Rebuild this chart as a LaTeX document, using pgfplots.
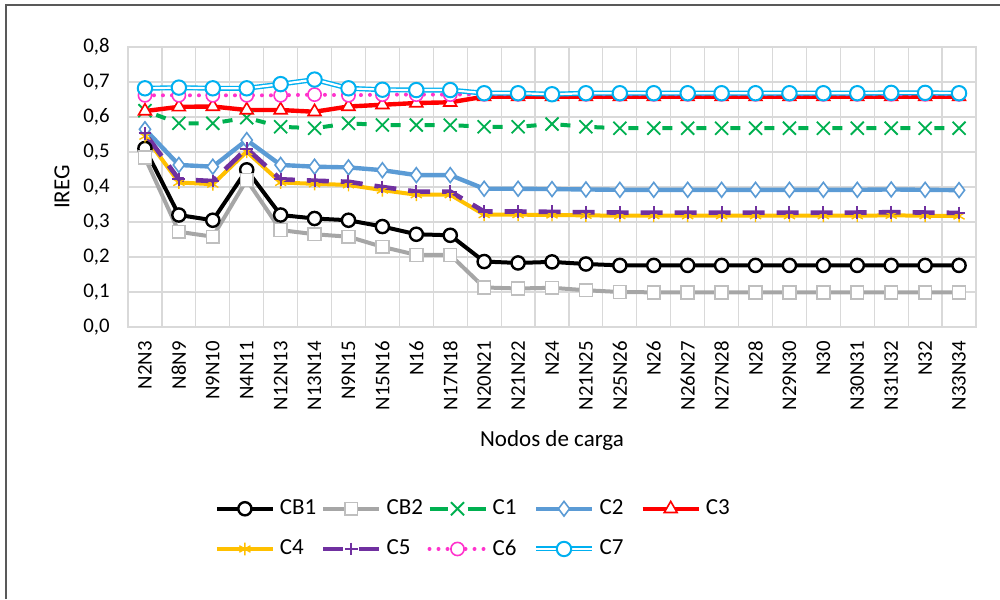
\documentclass[border=0pt]{standalone}
\usepackage{fontspec}
\setmainfont{Carlito}
\usepackage{pgfplots}
\usepackage{pgfplotstable}
\pgfplotsset{compat=1.18}
\usetikzlibrary{plotmarks}

\definecolor{cb2}{HTML}{A6A6A6}
\definecolor{cb2m}{HTML}{BFBFBF}
\definecolor{cone}{HTML}{00B050}
\definecolor{ctwo}{HTML}{5B9BD5}
\definecolor{cthree}{HTML}{FF0000}
\definecolor{cfour}{HTML}{FFC000}
\definecolor{cfive}{HTML}{7030A0}
\definecolor{csix}{HTML}{FF33CC}
\definecolor{cseven}{HTML}{00B0F0}
\definecolor{gridc}{HTML}{D9D9D9}

% IREG por nodo de carga
\pgfplotstableread{
x  CB1   CB2   C1    C2    C3    C4    C5    C6    C7
0  0.510 0.484 0.618 0.565 0.617 0.545 0.553 0.662 0.682
1  0.320 0.272 0.582 0.463 0.629 0.413 0.422 0.662 0.684
2  0.305 0.258 0.582 0.458 0.630 0.408 0.417 0.662 0.682
3  0.449 0.420 0.598 0.534 0.620 0.501 0.510 0.662 0.682
4  0.320 0.277 0.572 0.463 0.620 0.413 0.422 0.662 0.694
5  0.310 0.265 0.568 0.458 0.615 0.409 0.418 0.664 0.707
6  0.305 0.258 0.582 0.456 0.630 0.406 0.415 0.662 0.682
7  0.287 0.229 0.577 0.448 0.635 0.391 0.400 0.664 0.678
8  0.265 0.206 0.577 0.434 0.640 0.378 0.387 0.664 0.677
9  0.262 0.206 0.577 0.434 0.642 0.378 0.387 0.664 0.677
10 0.187 0.113 0.572 0.395 0.658 0.321 0.330 0.665 0.668
11 0.183 0.110 0.572 0.395 0.658 0.321 0.330 0.665 0.668
12 0.186 0.112 0.580 0.394 0.658 0.320 0.329 0.665 0.665
13 0.180 0.105 0.572 0.393 0.658 0.319 0.328 0.665 0.668
14 0.176 0.100 0.568 0.392 0.658 0.318 0.327 0.665 0.668
15 0.176 0.099 0.568 0.392 0.658 0.318 0.327 0.665 0.668
16 0.176 0.099 0.568 0.392 0.658 0.318 0.327 0.665 0.668
17 0.176 0.099 0.568 0.392 0.658 0.318 0.327 0.665 0.668
18 0.176 0.099 0.568 0.392 0.658 0.318 0.327 0.665 0.668
19 0.176 0.099 0.568 0.392 0.658 0.318 0.327 0.665 0.668
20 0.176 0.099 0.568 0.392 0.658 0.318 0.327 0.665 0.668
21 0.176 0.099 0.568 0.392 0.658 0.318 0.327 0.665 0.668
22 0.176 0.099 0.568 0.393 0.658 0.319 0.328 0.665 0.669
23 0.176 0.099 0.568 0.392 0.658 0.318 0.327 0.665 0.669
24 0.176 0.099 0.568 0.391 0.658 0.317 0.326 0.665 0.668
}\datatable

\newcommand{\lbl}[1]{\makebox[18pt][l]{#1}}

\begin{document}
\begin{tikzpicture}[x=1pt,y=1pt]
\useasboundingbox (0,0) rectangle (500,299.5);
\draw[line width=1.2pt, black!65] (3,0) -- (3,297) -- (500,297);
\begin{axis}[
  at={(64pt,136pt)}, anchor=south west,
  scale only axis, width=424pt, height=140pt,
  xmin=-0.5, xmax=24.5, ymin=0, ymax=0.8,
  xtick={0,...,24},
  xticklabels={N2N3,N8N9,N9N10,N4N11,N12N13,N13N14,N9N15,N15N16,N16,N17N18,N20N21,N21N22,N24,N21N25,N25N26,N26,N26N27,N27N28,N28,N29N30,N30,N30N31,N31N32,N32,N33N34},
  minor xtick={-0.5,0.5,...,24.5},
  ytick={0,0.1,0.2,0.3,0.4,0.5,0.6,0.7,0.8},
  xminorgrids, ymajorgrids,
  grid style={gridc, line width=0.6pt},
  minor grid style={gridc, line width=0.6pt},
  axis line style={gridc, line width=0.6pt},
  major tick length=0pt, minor tick length=0pt,
  tick style={draw=none},
  yticklabel style={/pgf/number format/fixed, /pgf/number format/fixed zerofill,
    /pgf/number format/precision=1, /pgf/number format/use comma,
    /pgf/number format/assume math mode=true},
  yticklabel style={font=\fontsize{10.4}{12}\selectfont, inner sep=0pt, anchor=east},
  xticklabel style={font=\fontsize{10.4}{12}\selectfont, inner sep=0pt, rotate=90, anchor=east},
  xticklabel shift=7pt, yticklabel shift=9pt,
  xlabel={Nodos de carga}, ylabel={IREG},
  label style={font=\fontsize{11.5}{13}\selectfont},
  xlabel style={at={(axis description cs:0.5,-0.404)}, anchor=center},
  ylabel style={at={(axis description cs:-0.0778,0.5)}, anchor=center},
  legend columns=5,
  legend style={at={(axis description cs:0.1020,-0.605)}, anchor=north west,
    draw=none, fill=none, inner sep=0pt,
    font=\fontsize{11.5}{13}\selectfont,
    nodes={inner sep=1.5pt}, column sep=1pt, row sep=8pt},
  legend image code/.code={\draw[mark repeat=2,mark phase=2,#1] plot coordinates {(0pt,0pt)(14pt,0pt)(28pt,0pt)};},
]
\addplot[black, line width=2pt, mark=*, mark size=3.3pt,
  mark options={fill=white, draw=black, line width=1.2pt}]
  table[x=x, y=CB1] {\datatable};
\addlegendentry{\lbl{CB1}}
\addplot[cb2, line width=2pt, mark=square*, mark size=3.2pt,
  mark options={fill=white, draw=cb2m, line width=0.8pt}]
  table[x=x, y=CB2] {\datatable};
\addlegendentry{\lbl{CB2}}
\addplot[cone, line width=2pt, dash pattern=on 5pt off 12pt, dash phase=11pt,
  mark=x, mark size=4.6pt, mark options={solid, line width=0.9pt},
  legend image post style={dash pattern=on 9pt off 10pt, dash phase=0pt}]
  table[x=x, y=C1] {\datatable};
\addlegendentry{\lbl{C1}}
\addplot[ctwo, line width=2.2pt, mark=diamond*, mark size=3.7pt,
  mark options={fill=white, draw=ctwo, line width=0.8pt}]
  table[x=x, y=C2] {\datatable};
\addlegendentry{\lbl{C2}}
\addplot[cthree, line width=2.2pt, mark=triangle*, mark size=3.7pt,
  mark options={fill=white, draw=cthree, line width=0.8pt}]
  table[x=x, y=C3] {\datatable};
\addlegendentry{\lbl{C3}}
\addplot[cfour, line width=2pt, mark=asterisk, mark size=3.2pt,
  mark options={line width=0.7pt}]
  table[x=x, y=C4] {\datatable};
\addlegendentry{\lbl{C4}}
\addplot[cfive, line width=2.3pt, dash pattern=on 11pt off 6pt, dash phase=14pt,
  mark=+, mark size=3.2pt, mark options={solid, line width=1pt},
  legend image post style={dash pattern=on 10pt off 8pt, dash phase=0pt}]
  table[x=x, y=C5] {\datatable};
\addlegendentry{\lbl{C5}}
\addplot[csix, line width=2pt, line cap=round, dash pattern=on 0pt off 4.5pt,
  mark=*, mark size=3.3pt,
  mark options={solid, fill=white, draw=csix, line width=0.8pt}]
  table[x=x, y=C6] {\datatable};
\addlegendentry{\lbl{C6}}
\addplot[cseven, line width=0.7pt, double=white, double distance=1.1pt,
  mark=*, mark size=3.6pt,
  mark options={fill=white, draw=cseven, line width=1pt}]
  table[x=x, y=C7] {\datatable};
\addlegendentry{\lbl{C7}}
\end{axis}
\end{tikzpicture}
\end{document}
